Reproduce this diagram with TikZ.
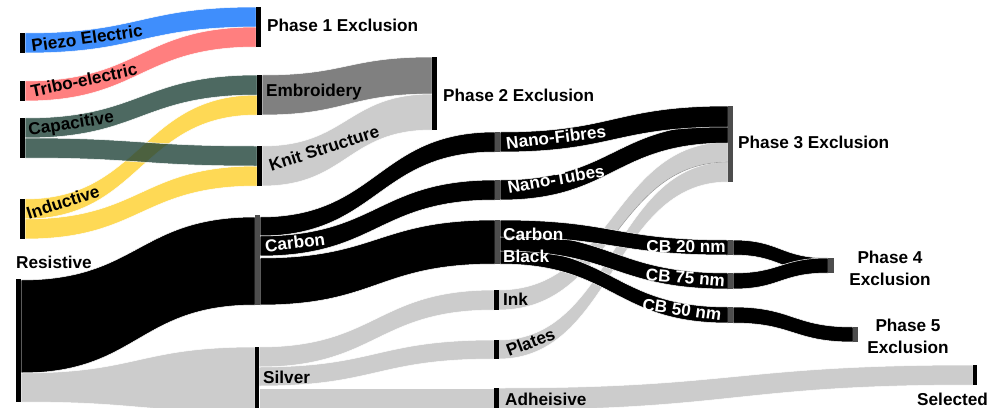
\documentclass[tikz,border=0pt]{standalone}
\usepackage{fontspec}
\setmainfont{Liberation Sans}
\usetikzlibrary{calc}
\pgfdeclarelayer{flows}
\pgfsetlayers{flows,main}
\definecolor{cblue}{HTML}{3F8EFC}
\definecolor{cred}{HTML}{FF7F7F}
\definecolor{cgreen}{HTML}{20443A}
\definecolor{cyellow}{HTML}{FED955}
\definecolor{cgray}{HTML}{808080}
\definecolor{clight}{HTML}{CCCCCC}
\definecolor{cdark}{HTML}{4D4D4D}
\newcommand\labfont{\fontsize{17.2pt}{22pt}\selectfont\bfseries}
% flow band: style, source, src top, src bottom, target, tgt top, tgt bottom (offsets from bar tops)
\newcommand\sflow[7]{%
  \path[#1] let \p1=(#2.north east), \p2=(#5.north west), \n1={0.5*\x1+0.5*\x2} in
  ({\x1},{\y1-#3pt}) .. controls ({\n1*1pt},{\y1-#3pt}) and ({\n1*1pt},{\y2-#6pt}) .. ({\x2},{\y2-#6pt})
  -- ({\x2},{\y2-#7pt}) .. controls ({\n1*1pt},{\y2-#7pt}) and ({\n1*1pt},{\y1-#4pt}) .. ({\x1},{\y1-#4pt}) -- cycle;}
\tikzset{
  bar/.style={rectangle, inner sep=0pt, outer sep=0pt, minimum width=5pt, fill=black, anchor=north west},
  dbar/.style={bar, fill=cdark},
  fl/.style={fill=#1, draw=white, line width=0.5pt},
  lbl/.style={font=\labfont, inner sep=0pt, text height=12.3pt, text depth=0pt},
  wlbl/.style={lbl, text=white},
  ml/.style={font=\labfont, inner sep=0pt, align=center}
}
\begin{document}
\begin{tikzpicture}[x=1pt,y=-1pt]
\useasboundingbox (0,0) rectangle (995,407);
% ---- bars (nodes)
\node[bar, minimum height=20pt] (piezo) at (20,33) {};
\node[bar, minimum height=20pt] (tribo) at (20,81) {};
\node[bar, minimum height=40pt] (capac) at (20,118) {};
\node[bar, minimum height=40pt] (induct) at (20,199) {};
\node[bar, minimum height=123pt] (resist) at (16,279) {};
\node[bar, minimum height=40pt] (phase1) at (256,7) {};
\node[bar, minimum height=40pt] (embro) at (257,75) {};
\node[bar, minimum height=40pt] (knit) at (257,146) {};
\node[dbar, minimum height=90pt] (carbon) at (255,215) {};
\node[bar, minimum height=65pt, minimum width=4pt] (silver) at (255,347) {};
\node[bar, minimum height=73pt] (phase2) at (432,57) {};
\node[dbar, minimum height=20pt] (nanof) at (495,132) {};
\node[dbar, minimum height=20pt] (nanot) at (495,180) {};
\node[dbar, minimum height=44pt] (cblack) at (495,220) {};
\node[bar, minimum height=20pt, minimum width=4.5pt] (ink) at (494,290) {};
\node[bar, minimum height=19pt, minimum width=4.5pt] (plates) at (494,340) {};
\node[bar, minimum height=22pt, minimum width=4.5pt] (adh) at (494,388) {};
\node[dbar, minimum height=76pt] (phase3) at (728,106) {};
\node[dbar, minimum height=15pt] (cb20) at (728,240) {};
\node[dbar, minimum height=16pt] (cb75) at (728,273) {};
\node[dbar, minimum height=16pt] (cb50) at (728,307) {};
\node[dbar, minimum height=15pt, minimum width=6pt] (phase4) at (828,258) {};
\node[dbar, minimum height=15pt] (phase5) at (853,327) {};
\node[bar, minimum height=20pt, minimum width=4pt] (selected) at (973,365) {};
% ---- flows
\begin{pgfonlayer}{flows}
\sflow{fl=cblue}{piezo}{0}{20}{phase1}{0}{20}
\sflow{fl=cred}{tribo}{0}{20}{phase1}{20}{40}
\sflow{fl=cyellow}{induct}{0}{20}{embro}{20}{40}
\sflow{fl=cyellow}{induct}{20}{40}{knit}{20}{40}
\sflow{fl=cgreen, fill opacity=0.8}{capac}{0}{20}{embro}{0}{20}
\sflow{fl=cgreen, fill opacity=0.8}{capac}{20}{40}{knit}{0}{20}
\sflow{fl=cgray}{embro}{0}{40}{phase2}{0}{37}
\sflow{fl=clight}{knit}{0}{40}{phase2}{37}{73}
\sflow{fl=black}{resist}{1}{94}{carbon}{2}{90}
\sflow{fl=clight}{resist}{94}{123}{silver}{0}{65}
\sflow{fl=clight}{silver}{0}{20}{ink}{0}{20}
\sflow{fl=clight}{silver}{20}{39}{plates}{0}{19}
\sflow{fl=clight}{silver}{41}{63}{adh}{0}{22}
\sflow{fl=clight}{adh}{0}{22}{selected}{0}{20}
\sflow{fl=black}{carbon}{2}{21}{nanof}{0}{20}
\sflow{fl=black}{carbon}{21}{41}{nanot}{0}{20}
\sflow{fl=black}{carbon}{43}{90}{cblack}{0}{44}
\sflow{fl=clight}{ink}{0}{20}{phase3}{36}{56}
\sflow{fl=clight}{plates}{0}{19}{phase3}{56}{76}
\begin{scope}
  \clip (612,100) rectangle (728,240);
  \draw[color=black!40, line width=0.6pt] let \p1=(ink.north east), \p2=(phase3.north west), \n1={0.5*\x1+0.5*\x2} in
    ({\x1},{\y1-20pt}) .. controls ({\n1*1pt},{\y1-20pt}) and ({\n1*1pt},{\y2-56pt}) .. ({\x2},{\y2-56pt});
\end{scope}
\sflow{fl=black}{nanot}{0}{20}{phase3}{18}{37}
\sflow{fl=black}{nanof}{0}{20}{phase3}{0}{21}
\sflow{fl=black}{cblack}{28}{44}{cb50}{0}{16}
\sflow{fl=black}{cblack}{13}{31}{cb75}{0}{16}
\sflow{fl=black}{cblack}{0}{17}{cb20}{0}{15}
\sflow{fl=black}{cb20}{0}{15}{phase4}{0}{15}
\sflow{fl=black}{cb75}{0}{16}{phase4}{0}{15}
\sflow{fl=black}{cb50}{0}{16}{phase5}{0}{15}
\end{pgfonlayer}
% ---- labels
\node[lbl, rotate=8] (lpiezo) at (87,38) {Piezo Electric};
\node[lbl, rotate=12] (ltribo) at (84,80) {Tribo-electric};
\node[lbl, rotate=9] (lcapac) at (71,123) {Capacitive};
\node[lbl, rotate=18] (linduct) at (63,202) {Inductive};
\node[lbl, anchor=west] (lresist) at (16,262.5) {Resistive};
\node[lbl, anchor=west] (lphase1) at (267,25) {Phase 1 Exclusion};
\node[lbl, anchor=west] (lembro) at (266,90) {Embroidery};
\node[lbl, rotate=18] (lknit) at (324,148) {Knit Structure};
\node[wlbl, rotate=7] (lcarbon) at (295,242.5) {Carbon};
\node[lbl, anchor=west] (lsilver) at (263,377.5) {Silver};
\node[lbl, anchor=west] (lphase2) at (443,95) {Phase 2 Exclusion};
\node[wlbl, rotate=7] (lnanof) at (556,137) {Nano-Fibres};
\node[wlbl, rotate=10] (lnanot) at (556,179) {Nano-Tubes};
\node[ml, align=left, text=white, anchor=north west] (lcblack) at (503,228) {Carbon\\Black};
\node[lbl, anchor=west] (link) at (503,299) {Ink};
\node[lbl, rotate=21] (lplates) at (530.5,342) {Plates};
\node[lbl, anchor=west] (ladh) at (505,399) {Adheisive};
\node[lbl, anchor=west] (lphase3) at (738,142) {Phase 3 Exclusion};
\node[wlbl, anchor=east] (lcb20) at (726,246.5) {CB 20 nm};
\node[wlbl, rotate=-5] (lcb75) at (685.5,277.5) {CB 75 nm};
\node[wlbl, rotate=-8] (lcb50) at (682,309.5) {CB 50 nm};
\node[ml, anchor=north] (lphase4) at (890,251) {Phase 4\\Exclusion};
\node[ml, anchor=north] (lphase5) at (908,319) {Phase 5\\Exclusion};
\node[lbl, anchor=west] (lselected) at (917,399) {Selected};
\end{tikzpicture}
\end{document}
